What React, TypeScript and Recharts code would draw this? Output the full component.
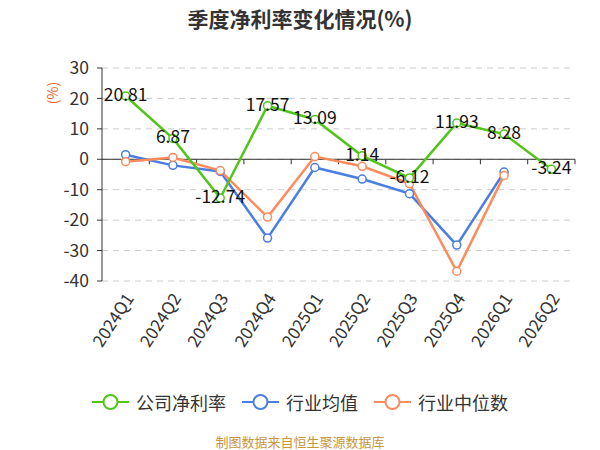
import React from 'react';
import { LineChart, Line, XAxis, YAxis, CartesianGrid, ReferenceLine, LabelList } from 'recharts';

const quarters = ['2024Q1', '2024Q2', '2024Q3', '2024Q4', '2025Q1', '2025Q2', '2025Q3', '2025Q4', '2026Q1', '2026Q2'];
const companyRate = [20.81, 6.87, -12.74, 17.57, 13.09, 1.14, -6.12, 11.93, 8.28, -3.24];
const industryAvg = [1.5, -2.0, -4.0, -25.9, -2.7, -6.5, -11.3, -28.2, -4.2, null];
const industryMedian = [-0.8, 0.6, -3.7, -19.0, 0.9, -2.3, -8.0, -36.8, -5.3, null];
const yTicks = [30, 20, 10, 0, -10, -20, -30, -40];

const GREEN = '#52c41a';
const BLUE = '#4a7ee0';
const ORANGE = '#fd8b5d';
const FONT = '"Noto Sans CJK SC", "Noto Sans", sans-serif';

const data = quarters.map((q, i) => ({
    q,
    company: companyRate[i],
    avg: industryAvg[i],
    median: industryMedian[i],
}));

const legendItems = [
    { name: '公司净利率', color: GREEN },
    { name: '行业均值', color: BLUE },
    { name: '行业中位数', color: ORANGE },
];

// rotated category labels under the plot
const QuarterTick = ({ x, y, payload }) => (
    <g transform={`translate(${x + 4},${y + 6})`}>
        <text transform="rotate(-57)" textAnchor="end" dy="0.35em" fill="#333" fontSize={17} fontFamily={FONT}>
            {payload.value}
        </text>
    </g>
);

// zero line works as the category axis, with a tick at each band edge
const ZeroAxis = ({ x1, y1, x2 }) => {
    const n = quarters.length;
    const step = (x2 - x1) / n;
    return (
        <g>
            <line x1={x1} y1={y1} x2={x2} y2={y1} stroke="#333" strokeWidth={1} />
            {Array.from({ length: n }, (_, i) => (
                <line key={i} x1={x1 + step * (i + 1)} y1={y1} x2={x1 + step * (i + 1)} y2={y1 + 5} stroke="#333" />
            ))}
        </g>
    );
};

const ValueLabel = ({ x, y, value }) => (
    <text x={x} y={y + 5} textAnchor="middle" fill="#111" fontSize={17.5} fontFamily={FONT}>
        {Number(value).toFixed(2)}
    </text>
);

const dot = (color) => ({ r: 4, fill: '#fff', stroke: color, strokeWidth: 1.5 });

export default function App() {
    return (
        <div style={{ position: 'absolute', left: 0, top: 0, width: 600, height: 450, background: '#fff', fontFamily: FONT }}>
            <div style={{ position: 'absolute', top: 3, left: 0, width: 600, textAlign: 'center', fontSize: 21, fontWeight: 'bold', color: '#333' }}>
                季度净利率变化情况(%)
            </div>
            <div style={{ position: 'absolute', left: 41, top: 83, fontSize: 14, color: '#e8622c', transform: 'rotate(-90deg)' }}>
                (%)
            </div>
            <LineChart width={600} height={450} data={data} margin={{ top: 68, right: 25, left: 0, bottom: 69 }}>
                <CartesianGrid horizontal vertical={false} stroke="#ccc" strokeDasharray="6 5" />
                <XAxis
                    dataKey="q"
                    height={100}
                    axisLine={false}
                    tickLine={false}
                    tick={QuarterTick}
                    interval={0}
                    padding={{ left: 23.6, right: 23.6 }}
                />
                <YAxis
                    width={102}
                    domain={[-40, 30]}
                    ticks={yTicks}
                    interval={0}
                    axisLine={{ stroke: '#333' }}
                    tickLine={{ stroke: '#333' }}
                    tickSize={5}
                    tickMargin={8}
                    tick={{ fill: '#333', fontSize: 17.5, fontFamily: FONT }}
                />
                <ReferenceLine y={0} shape={ZeroAxis} />
                <Line dataKey="avg" stroke={BLUE} strokeWidth={2.5} dot={dot(BLUE)} isAnimationActive={false} />
                <Line dataKey="median" stroke={ORANGE} strokeWidth={2.5} dot={dot(ORANGE)} isAnimationActive={false} />
                <Line dataKey="company" stroke={GREEN} strokeWidth={2.5} dot={dot(GREEN)} isAnimationActive={false}>
                    <LabelList dataKey="company" content={ValueLabel} />
                </Line>
            </LineChart>
            <div style={{ position: 'absolute', top: 389, left: 0, width: 600, display: 'flex', justifyContent: 'center', gap: 16 }}>
                {legendItems.map((it) => (
                    <div key={it.name} style={{ display: 'flex', alignItems: 'center' }}>
                        <svg width={37} height={26}>
                            <line x1={0} y1={13} x2={37} y2={13} stroke={it.color} strokeWidth={2} />
                            <circle cx={18.5} cy={13} r={7} fill="#fff" stroke={it.color} strokeWidth={2} />
                        </svg>
                        <span style={{ marginLeft: 7, fontSize: 18, color: '#333' }}>{it.name}</span>
                    </div>
                ))}
            </div>
            <div style={{ position: 'absolute', top: 432, left: 0, width: 600, textAlign: 'center', fontSize: 13, color: '#c8963e' }}>
                制图数据来自恒生聚源数据库
            </div>
        </div>
    );
}
